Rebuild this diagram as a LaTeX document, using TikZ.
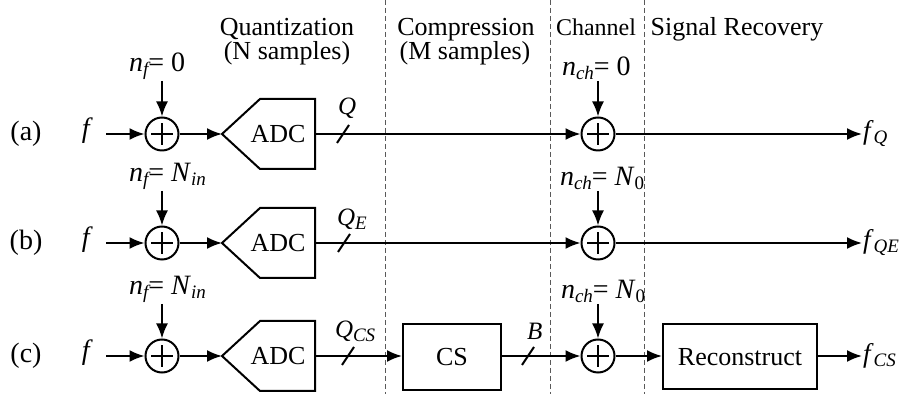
\documentclass[tikz,border=0pt]{standalone}
\usepackage{fontspec}
\setmainfont{Liberation Serif}
\usetikzlibrary{arrows.meta}

% ADC block: pointed input side, rectangular output side
\newcommand{\adcblock}[2]{%
  \draw (222,#2) -- (260,#2-35) -- (315,#2-35) -- (315,#2+35) -- (260,#2+35) -- cycle;
  \coordinate (#1in) at (222,#2);
  \coordinate (#1out) at (315,#2);
  \node[blk,draw=none] (#1) at (278,#2) {ADC};}

% bus slash across a line
\newcommand{\busslash}[2]{%
  \coordinate (#1) at #2;
  \draw ([shift={(-6,9)}]#1) -- ([shift={(6,-9)}]#1);}

% italic subscript, set a little smaller and tighter
\newcommand{\isub}[1]{\raisebox{-0.32ex}{\fontsize{9.5}{10}\selectfont\itshape #1}}
\newcommand{\rsub}[1]{\raisebox{-0.32ex}{\fontsize{9.5}{10}\selectfont #1}}

\begin{document}
\begin{tikzpicture}[x=0.5pt,y=-0.5pt,
  line width=1pt,
  arr/.style={-{Latex[length=7.5pt,width=6pt]}},
  adder/.style={circle,draw,minimum size=16.5pt,inner sep=0pt,
    path picture={\draw[line width=0.8pt]
      ([xshift=-5.5pt]path picture bounding box.center) -- ([xshift=5.5pt]path picture bounding box.center)
      ([yshift=-5.5pt]path picture bounding box.center) -- ([yshift=5.5pt]path picture bounding box.center);}},
  blk/.style={draw,rectangle,inner sep=0pt,font=\fontsize{13}{15}\selectfont},
  title/.style={font=\fontsize{13}{15}\selectfont,anchor=base,inner sep=0pt},
  lab/.style={font=\fontsize{14}{16}\selectfont,inner sep=0pt},
  outlab/.style={font=\fontsize{13.5}{16}\selectfont,inner sep=0pt,anchor=west},
  bus/.style={font=\fontsize{12.5}{15}\selectfont,inner sep=0pt,anchor=base west},
  sep/.style={dash pattern=on 2.5pt off 1.5pt,line width=0.45pt,black!65}
]
\fill[white] (0,0) rectangle (899,394);
\useasboundingbox (0,0) rectangle (899,394);

% stage separators
\draw[sep] (385,0) -- (385,394);
\draw[sep] (550,0) -- (550,394);
\draw[sep] (644,0) -- (644,394);

% stage titles
\node[title] (tq) at (287,36) {Quantization};
\node[title] (tq2) at (287,60) {(N samples)};
\node[title] (tc) at (466,36) {Compression};
\node[title] (tc2) at (465,60) {(M samples)};
\node[title,font=\fontsize{12}{15}\selectfont] (tch) at (596,36) {Channel};
\node[title] (tsr) at (737,36) {Signal Recovery};

% ---------- row (a) ----------
\node[lab] (ra) at (26,134) {(a)};
\node[lab,anchor=east] (fa) at (94,131) {\textit{f}};
\node[adder] (sa) at (162,134) {};
\node[lab,anchor=south west] (nfa) at (128,81) {\textit{n}\isub{f}= 0};
\draw[arr] (nfa.south -| sa) -- (sa.north);
\draw[arr] ([xshift=6pt]fa.east |- sa) -- (sa.west);
\adcblock{adca}{134}
\draw[arr] (sa.east) -- (adcain);
\node[adder] (ca) at (598,134) {};
\node[lab,anchor=south west] (nca) at (561,81) {\textit{n}\isub{ch}= 0};
\draw[arr] (nca.south -| ca) -- (ca.north);
\draw[arr] (adcaout) -- (ca.west);
\busslash{qa}{(343,134)}
\node[bus] (Qa) at (337,115) {\textit{Q}};
\node[outlab] (fQa) at (862,134) {\textit{f}\isub{Q}};
\draw[arr] (ca.east) -- (ca -| fQa.west);

% ---------- row (b) ----------
\node[lab] (rb) at (26,243) {(b)};
\node[lab,anchor=east] (fb) at (94,240) {\textit{f}};
\node[adder] (sb) at (162,243) {};
\node[lab,anchor=south west] (nfb) at (128,191) {\textit{n}\isub{f}= \textit{N}\isub{in}};
\draw[arr] (nfb.south -| sb) -- (sb.north);
\draw[arr] ([xshift=6pt]fb.east |- sb) -- (sb.west);
\adcblock{adcb}{243}
\draw[arr] (sb.east) -- (adcbin);
\node[adder] (cb) at (598,243) {};
\node[lab,anchor=south west] (ncb) at (559,191) {\textit{n}\isub{ch}= \textit{N}\rsub{0}};
\draw[arr] (ncb.south -| cb) -- (cb.north);
\draw[arr] (adcbout) -- (cb.west);
\busslash{qb}{(344,243)}
\node[bus] (Qb) at (336,226) {\textit{Q}\isub{E}};
\node[outlab] (fQb) at (862,243) {\textit{f}\isub{QE}};
\draw[arr] (cb.east) -- (cb -| fQb.west);

% ---------- row (c) ----------
\node[lab] (rc) at (26,356) {(c)};
\node[lab,anchor=east] (fc) at (94,353) {\textit{f}};
\node[adder] (sc) at (162,356) {};
\node[lab,anchor=south west] (nfc) at (128,304) {\textit{n}\isub{f}= \textit{N}\isub{in}};
\draw[arr] (nfc.south -| sc) -- (sc.north);
\draw[arr] ([xshift=6pt]fc.east |- sc) -- (sc.west);
\adcblock{adcc}{356}
\draw[arr] (sc.east) -- (adccin);
\node[blk,minimum width=49pt,minimum height=33pt] (cs) at (452,357) {CS};
\draw[arr] (adccout) -- (adccout -| cs.west);
\busslash{qc}{(348,356)}
\node[bus] (Qc) at (334,338) {\textit{Q}\isub{CS}};
\node[adder] (cc) at (598,356) {};
\node[lab,anchor=south west] (ncc) at (560,304) {\textit{n}\isub{ch}= \textit{N}\rsub{0}};
\draw[arr] (ncc.south -| cc) -- (cc.north);
\draw[arr] (cs.east |- cc) -- (cc.west);
\busslash{bc}{(528,356)}
\node[bus] (Bc) at (526,340) {\textit{B}};
\node[blk,minimum width=77pt,minimum height=32.5pt] (rec) at (740,357) {Reconstruct};
\draw[arr] (cc.east) -- (cc -| rec.west);
\node[outlab] (fQc) at (862,356) {\textit{f}\isub{CS}};
\draw[arr] (rec.east |- cc) -- (cc -| fQc.west);
\end{tikzpicture}
\end{document}
